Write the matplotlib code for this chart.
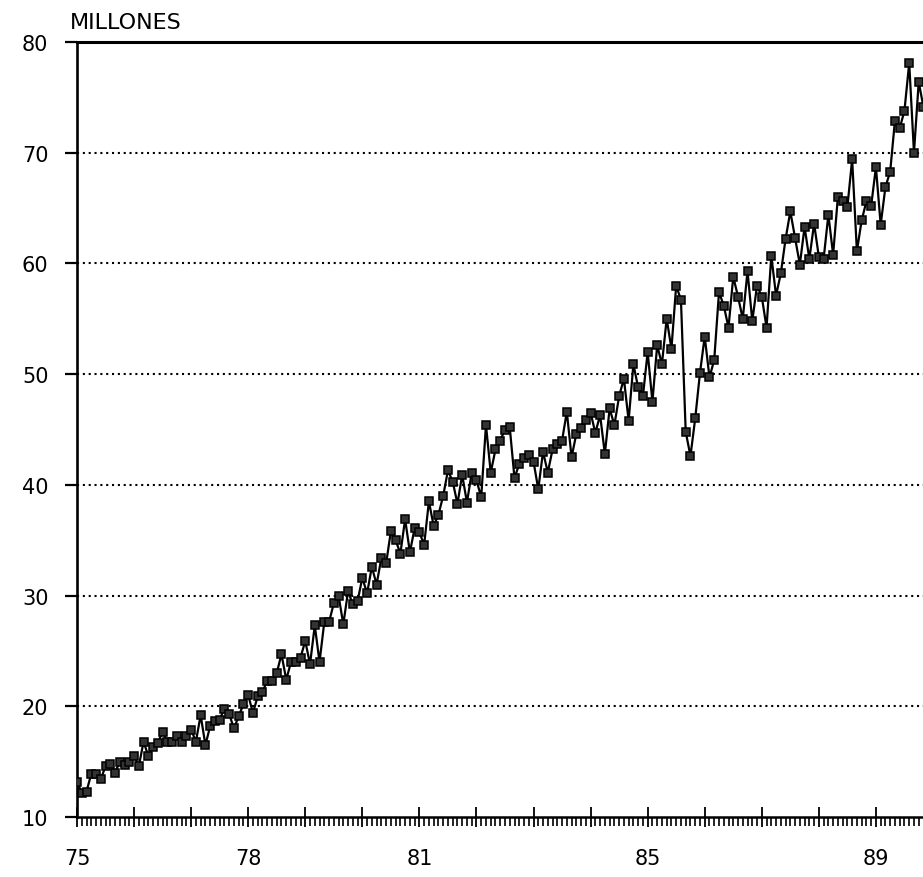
"""
Serie mensual 1975-1989, en millones.
Gráfico de línea con marcadores cuadrados y rejilla punteada.
"""

import numpy as np
import matplotlib
matplotlib.use("Agg")
import matplotlib.pyplot as plt
from matplotlib.ticker import FixedLocator, MultipleLocator, NullFormatter

# ── Datos mensuales (millones) ─────────────────────────────────────────────────
v1975 = [13.2, 12.2, 12.3, 13.9, 13.9, 13.4, 14.6, 14.8, 14.0, 15.0, 14.7, 15.0]
v1976 = [15.5, 14.6, 16.8, 15.5, 16.3, 16.7, 17.7, 16.8, 16.8, 17.3, 16.8, 17.3]
v1977 = [17.9, 16.8, 19.2, 16.5, 18.2, 18.7, 18.8, 19.8, 19.3, 18.0, 19.1, 20.2]
v1978 = [21.0, 19.4, 20.9, 21.3, 22.3, 22.3, 23.0, 24.7, 22.4, 24.0, 24.0, 24.4]
v1979 = [25.9, 23.8, 27.3, 24.0, 27.6, 27.6, 29.3, 30.0, 27.4, 30.4, 29.2, 29.5]
v1980 = [31.6, 30.2, 32.6, 31.0, 33.4, 32.9, 35.8, 35.0, 33.8, 36.9, 33.9, 36.1]
v1981 = [35.7, 34.6, 38.5, 36.3, 37.3, 39.0, 41.3, 40.3, 38.3, 40.9, 38.4, 41.1]
v1982 = [40.4, 38.9, 45.4, 41.1, 43.2, 44.0, 45.0, 45.2, 40.6, 41.9, 42.4, 42.7]
v1983 = [42.1, 39.6, 43.0, 41.1, 43.2, 43.7, 44.0, 46.6, 42.5, 44.6, 45.1, 45.9]
v1984 = [46.5, 44.7, 46.3, 42.8, 46.9, 45.4, 48.0, 49.6, 45.8, 50.9, 48.8, 48.0]
v1985 = [52.0, 47.5, 52.6, 50.9, 55.0, 52.3, 58.0, 56.7, 44.8, 42.6, 46.0, 50.1]
v1986 = [53.4, 49.7, 51.3, 57.4, 56.2, 54.2, 58.8, 57.0, 55.0, 59.3, 54.8, 58.0]
v1987 = [57.0, 54.2, 60.7, 57.1, 59.1, 62.2, 64.7, 62.3, 59.9, 63.3, 60.4, 63.6]
v1988 = [60.6, 60.4, 64.4, 60.8, 66.0, 65.6, 65.1, 69.4, 61.1, 63.9, 65.6, 65.2]
v1989 = [68.7, 63.5, 66.9, 68.3, 72.9, 72.2, 73.8, 78.1, 70.0, 76.4, 74.1]

YEAR_LABELS = [75, 78, 81, 85, 89]
Y_TICKS = [10, 20, 30, 40, 50, 60, 70, 80]
GRID_LEVELS = [20, 30, 40, 50, 60, 70]
UNIT_LABEL = "MILLONES"

values = np.array(v1975 + v1976 + v1977 + v1978 + v1979 + v1980 + v1981
                  + v1982 + v1983 + v1984 + v1985 + v1986 + v1987 + v1988
                  + v1989)
months = 75 + np.arange(len(values)) / 12.0

# ── Figura ─────────────────────────────────────────────────────────────────────
fig = plt.figure(figsize=(9.23, 8.78), dpi=100)
ax = fig.add_axes([77 / 923, 60 / 878, 846 / 923, 775 / 878])

for lvl in GRID_LEVELS:
    ax.axhline(lvl, color="black", lw=1.5, ls=(0, (1, 1.8)), zorder=1)

ax.plot(months, values, color="black", lw=1.6, marker="s", ms=6.3,
        mfc="#333333", mec="black", mew=1.1, zorder=3)

ax.set_xlim(75, 75 + 177.9 / 12)
ax.set_ylim(10, 80)

# spines: sin borde derecho
ax.spines["right"].set_visible(False)
ax.spines["top"].set_linewidth(2.2)
ax.spines["left"].set_linewidth(1.9)
ax.spines["bottom"].set_linewidth(1.8)

# eje Y
ax.set_yticks(Y_TICKS)
ax.tick_params(axis="y", direction="out", length=8.6, width=1.6, pad=12,
               labelsize=15)

# eje X: marcas anuales y mensuales
ax.xaxis.set_major_locator(MultipleLocator(1))
ax.xaxis.set_minor_locator(MultipleLocator(1 / 12))
ax.xaxis.set_major_formatter(NullFormatter())
ax.tick_params(axis="x", which="major", direction="inout", length=15,
               width=1.3)
ax.tick_params(axis="x", which="minor", direction="out", length=6.5,
               width=1.2)

# etiquetas de año solo en algunos años
label_ax = ax.secondary_xaxis("bottom")
label_ax.xaxis.set_major_locator(FixedLocator(YEAR_LABELS))
label_ax.set_xticklabels([str(y) for y in YEAR_LABELS])
label_ax.tick_params(length=0, pad=22, labelsize=15)
label_ax.spines["bottom"].set_visible(False)

fig.text(70 / 923, 1 - 29 / 878, UNIT_LABEL, fontsize=16, ha="left",
         va="baseline")

fig.savefig("out.png", dpi=100)
